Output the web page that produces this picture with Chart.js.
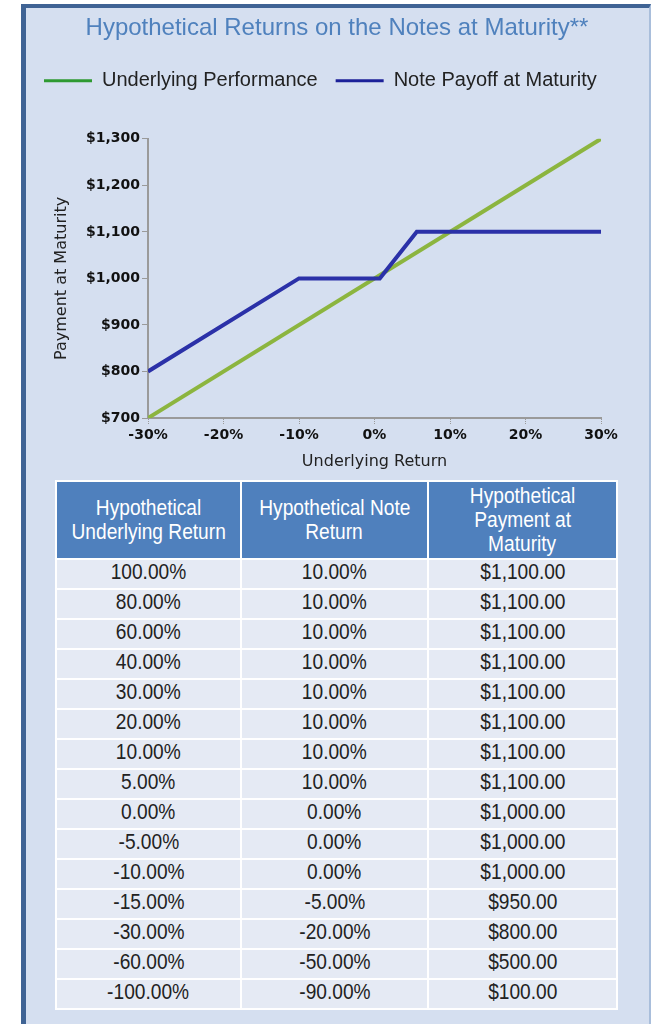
<!DOCTYPE html>
<html>
<head>
<meta charset="utf-8">
<script src="https://cdn.jsdelivr.net/npm/chart.js@4/dist/chart.umd.min.js"></script>
<style>
  body { margin: 0; background: #fff; width: 652px; height: 1024px; overflow: hidden; position: relative; }
  #panel { position: absolute; left: 21px; top: 4px; width: 623px; height: 1030px;
           background: #d5dff0; border-left: 5px solid #3f6394; border-top: 4px solid #3f6394;
           border-right: 2px solid #a9bedb; }
  #chart-box { position: absolute; left: 0; top: 0; width: 622px; height: 468px; }
  #payoff-table { position: absolute; left: 29px; top: 472px; width: 563px; border-collapse: collapse;
                  font-family: 'Liberation Sans', Arial, sans-serif; color: #222; }
  #payoff-table td, #payoff-table th { border: 2px solid #fff; text-align: center; padding: 0; white-space: nowrap; }
  #payoff-table th { background: #4f80bd; color: #fff; font-weight: normal; font-size: 22px; line-height: 24px; height: 76px; }
  #payoff-table td { background: #e5eaf4; font-size: 22px; height: 28px; line-height: 24px; vertical-align: top; }
  #payoff-table span { display: inline-block; transform: scaleX(0.87); }
</style>
</head>
<body>
<div id="panel">
  <div id="chart-box"><canvas id="payoff-chart"></canvas></div>
  <table id="payoff-table"></table>
</div>
<script>
// chart lines (x = underlying return %, y = payment $)
var underlyingX = [-30, 30];
var underlyingY = [700, 1300];
var noteX = [-30, -10, 0.7, 5.6, 30];
var noteY = [800, 1000, 1000, 1100, 1100];
var xTicks = [-30, -20, -10, 0, 10, 20, 30];
var yTicks = [700, 800, 900, 1000, 1100, 1200, 1300];

// table
var tableHeaders = [['Hypothetical', 'Underlying Return'], ['Hypothetical Note', 'Return'], ['Hypothetical', 'Payment at', 'Maturity']];
var tableUnderlying = [100, 80, 60, 40, 30, 20, 10, 5, 0, -5, -10, -15, -30, -60, -100];
var tableNote = [10, 10, 10, 10, 10, 10, 10, 10, 0, 0, 0, -5, -20, -50, -90];
var tablePayment = [1100, 1100, 1100, 1100, 1100, 1100, 1100, 1100, 1000, 1000, 1000, 950, 800, 500, 100];

function toPoints(xs, ys) {
    return xs.map((x, i) => { return {x: x, y: ys[i]} });
}

function money(v, dec) {
    return '$' + v.toLocaleString('en-US', {minimumFractionDigits: dec, maximumFractionDigits: dec});
}

var legendColors = ['#2e9a32', '#1c2199'];
var tickFont = { family: "'DejaVu Sans', sans-serif", size: 14, weight: 'bold' };
var axisTitleFont = { family: "'DejaVu Sans', sans-serif", size: 16 };

var ctx = document.getElementById('payoff-chart');
var payoffChart = new Chart(ctx, {
    type: 'line',
    data: {
        datasets: [
            {
                label: 'Underlying Performance',
                data: toPoints(underlyingX, underlyingY),
                borderColor: '#8cb53f',
                borderWidth: 4,
                pointRadius: 0,
                order: 2
            },
            {
                label: 'Note Payoff at Maturity',
                data: toPoints(noteX, noteY),
                borderColor: '#2b31a8',
                borderWidth: 4,
                pointRadius: 0,
                order: 1
            }
        ]
    },
    options: {
        responsive: true,
        maintainAspectRatio: false,
        animation: false,
        layout: { padding: 0 },
        plugins: {
            title: {
                display: true,
                text: 'Hypothetical Returns on the Notes at Maturity**',
                color: '#4f81bd',
                font: { family: "'Liberation Sans', Arial, sans-serif", size: 24, weight: 'normal' },
                padding: { top: 6, bottom: 10 }
            },
            legend: {
                align: 'start',
                labels: {
                    boxWidth: 48,
                    boxHeight: 3,
                    padding: 18,
                    color: '#222',
                    font: { family: "'Liberation Sans', Arial, sans-serif", size: 20 },
                    generateLabels: function(chart) {
                        return chart.data.datasets.map((ds, i) => {
                            return {
                                text: ds.label,
                                fillStyle: legendColors[i],
                                strokeStyle: legendColors[i],
                                lineWidth: 0,
                                fontColor: '#222',
                                datasetIndex: i
                            };
                        });
                    }
                }
            },
            tooltip: { enabled: false }
        },
        scales: {
            x: {
                type: 'linear',
                min: -30,
                max: 30,
                afterBuildTicks: (s) => { s.ticks = xTicks.map(v => { return {value: v} }) },
                afterFit: (s) => { s.height = 58 },
                border: { color: '#9a9a9a', width: 2 },
                grid: { drawOnChartArea: false, tickLength: 7, color: '#9a9a9a', tickBorderDash: [1, 1] },
                ticks: { padding: 2, color: '#111', font: tickFont, callback: (v) => v + '%' },
                title: {
                    display: true,
                    text: 'Underlying Return',
                    color: '#222',
                    font: axisTitleFont,
                    padding: { top: 0, bottom: 5 }
                }
            },
            y: {
                min: 700,
                max: 1300,
                afterBuildTicks: (s) => { s.ticks = yTicks.map(v => { return {value: v} }) },
                afterFit: (s) => { s.width = 122 },
                border: { color: '#9a9a9a', width: 2 },
                grid: { drawOnChartArea: false, tickLength: 6, color: '#9a9a9a' },
                ticks: { padding: 2, color: '#111', font: tickFont, callback: (v) => money(v, 0) },
                title: {
                    display: true,
                    text: 'Payment at Maturity',
                    color: '#222',
                    font: axisTitleFont,
                    padding: { top: 26, bottom: 0 }
                }
            },
            // empty axes, only to keep space round the plot like the original
            topSpace: {
                type: 'linear', position: 'top', axis: 'x',
                grid: { display: false }, border: { display: false }, ticks: { display: false },
                afterFit: (s) => { s.height = 38 }
            },
            rightSpace: {
                type: 'linear', position: 'right', axis: 'y',
                grid: { display: false }, border: { display: false }, ticks: { display: false },
                afterFit: (s) => { s.width = 47 }
            }
        }
    }
});

// build the table
var table = document.getElementById('payoff-table');
var html = '<tr>' + tableHeaders.map(h => '<th>' + h.map(t => '<span>' + t + '</span>').join('<br>') + '</th>').join('') + '</tr>';
tableUnderlying.forEach((u, i) => {
    html += '<tr><td style="width:183px"><span>' + u.toFixed(2) + '%</span></td>'
          + '<td style="width:185px"><span>' + tableNote[i].toFixed(2) + '%</span></td>'
          + '<td><span>' + money(tablePayment[i], 2) + '</span></td></tr>';
});
table.innerHTML = html;
</script>
</body>
</html>
